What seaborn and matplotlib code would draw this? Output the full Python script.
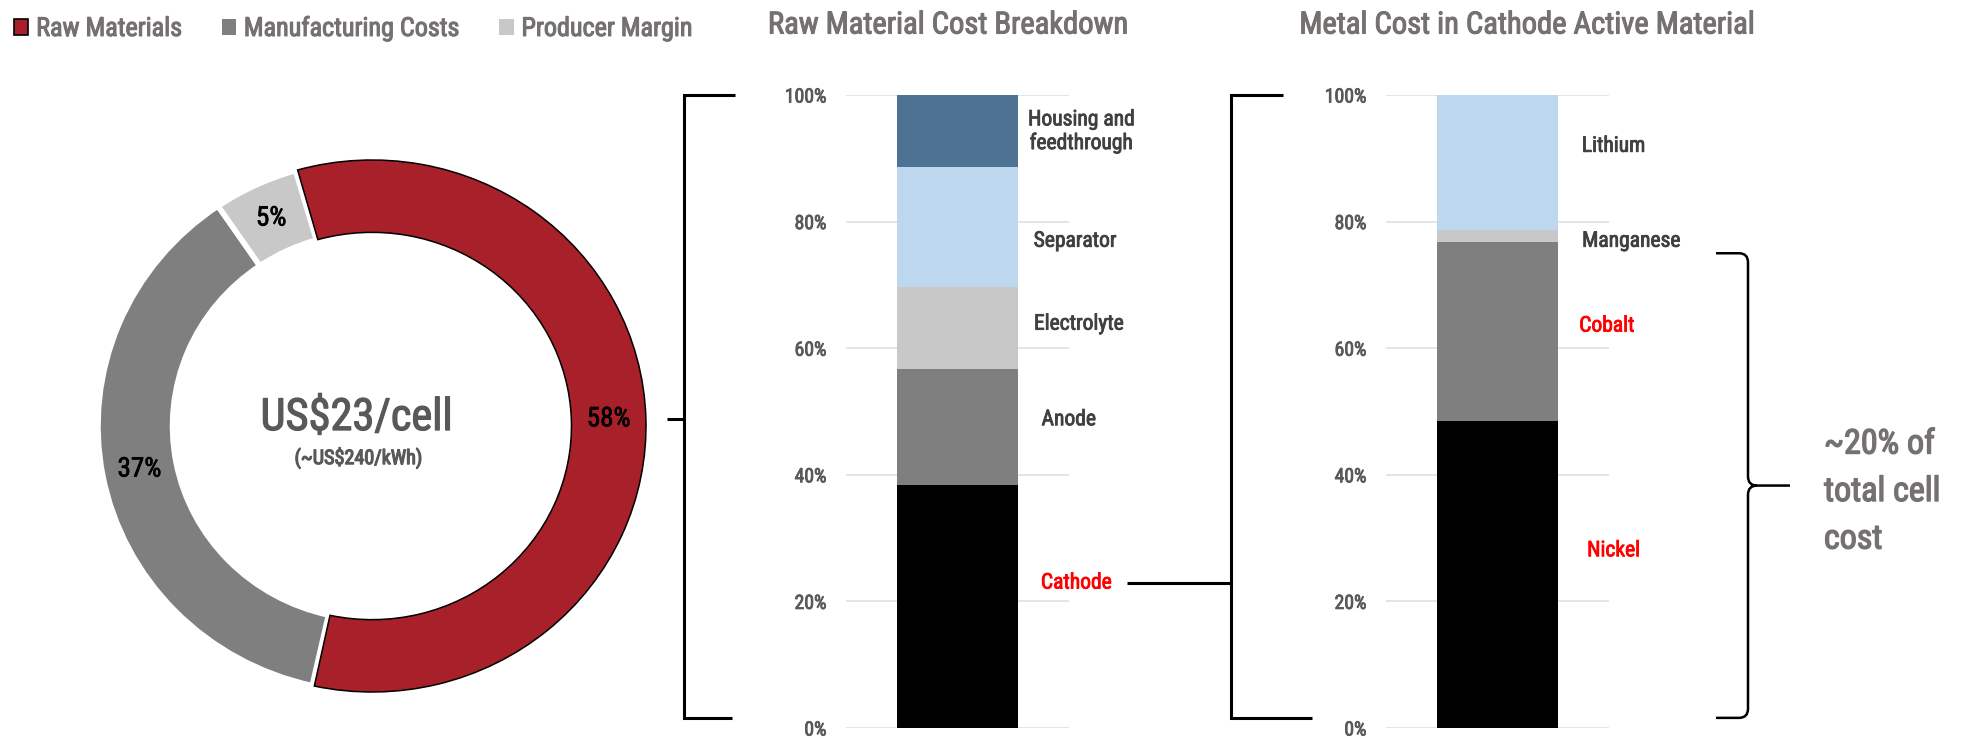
import numpy as np
import pandas as pd
import matplotlib
matplotlib.use("Agg")
import matplotlib.pyplot as plt
import matplotlib.patheffects as pe
import seaborn as sns
from matplotlib import font_manager
from matplotlib.lines import Line2D
from matplotlib.patches import Patch, PathPatch
from matplotlib.path import Path
from matplotlib.transforms import blended_transform_factory

# ---- data ----
cost_parts = ["Raw Materials", "Manufacturing Costs", "Producer Margin"]
cost_share = [58, 37, 5]

# raw material cost split, bottom to top (% of raw material cost)
material_parts = ["Cathode", "Anode", "Electrolyte", "Separator", "Housing and\nfeedthrough"]
material_share = [38.4, 18.3, 13.0, 19.0, 11.3]

# metal cost split in the cathode active material, bottom to top
metal_parts = ["Nickel", "Cobalt", "Manganese", "Lithium"]
metal_share = [48.5, 28.2, 1.9, 21.4]

pct_ticks = [0, 20, 40, 60, 80, 100]
pct_tick_labels = ["0%", "20%", "40%", "60%", "80%", "100%"]

cell_cost_text = "US$23/cell"
kwh_cost_text = "(~US$240/kWh)"
metal_note = "~20% of\ntotal cell\ncost"
material_title = "Raw Material Cost Breakdown"
metal_title = "Metal Cost in Cathode Active Material"

# ---- label placement (percent axis units / bar axis x units) ----
material_label_x = [0.533, 0.499, 0.544, 0.527, 0.555]
material_label_y = [22.9, 48.7, 63.8, 76.9, 94.2]
metal_label_x = [0.52, 0.49, 0.60, 0.52]
metal_label_y = [28.0, 63.5, 76.9, 91.9]

# ---- colours ----
RED = "#A8202A"
MID_GRAY = "#7F7F7F"
LIGHT_GRAY = "#C8C8C8"
PALE_BLUE = "#BDD7EE"
STEEL = "#4E7291"
TITLE_GRAY = "#767171"
TICK_GRAY = "#595959"
LABEL_GRAY = "#404040"
ALERT = "#FF0000"

cost_colors = [RED, MID_GRAY, LIGHT_GRAY]
material_colors = ["#000000", MID_GRAY, LIGHT_GRAY, PALE_BLUE, STEEL]
metal_colors = ["#000000", MID_GRAY, LIGHT_GRAY, PALE_BLUE]
material_text_colors = [ALERT, LABEL_GRAY, LABEL_GRAY, LABEL_GRAY, LABEL_GRAY]
metal_text_colors = [ALERT, ALERT, LABEL_GRAY, LABEL_GRAY]

sns.set_theme(style="white")

# ---- fonts ----
names = {f.name for f in font_manager.fontManager.ttflist}
NARROW_STRETCH = "normal"
if "Liberation Sans Narrow" in names:
    NARROW = "Liberation Sans Narrow"
elif "Roboto Condensed" in names:
    NARROW = "Roboto Condensed"
else:
    NARROW = "DejaVu Sans"
    NARROW_STRETCH = "condensed"
plt.rcParams["font.family"] = [NARROW, "DejaVu Sans"]


def narrow(size, color, weight=0.7, **extra):
    """Text style for the condensed face, thickened slightly with a stroke."""
    kw = dict(family=NARROW, fontstretch=NARROW_STRETCH, fontsize=size, color=color,
              path_effects=[pe.withStroke(linewidth=weight, foreground=color)])
    kw.update(extra)
    return kw


W, H = 1986, 738
fig = plt.figure(figsize=(W / 100, H / 100), dpi=100)


def fx(px):
    return px / W


def fy(py):
    return 1 - py / H


# ---- axes ----
pie_cx, pie_cy, pie_rx, pie_ry = 372, 426, 274, 266
ax_pie = fig.add_axes([fx(pie_cx - pie_rx), fy(pie_cy + pie_ry), fx(2 * pie_rx), 2 * pie_ry / H])
ax_mat = fig.add_axes([fx(846), fy(728), fx(223), 633 / H])
ax_met = fig.add_axes([fx(1386), fy(728), fx(223), 633 / H])

# ---- donut ----
wedges, _, pct_texts = ax_pie.pie(
    cost_share,
    colors=cost_colors,
    startangle=106.2,
    counterclock=False,
    autopct=lambda p: f"{p:.0f}%",
    pctdistance=0.864,
    wedgeprops=dict(width=0.272, edgecolor="white", linewidth=4),
    textprops=narrow(19.5, "black", weight=0.5),
)
ax_pie.set_xlim(-1, 1)
ax_pie.set_ylim(-1, 1)
ax_pie.set_aspect("auto")
for w in wedges:
    w.set_clip_on(False)
raw = wedges[0]
raw.set_theta1(raw.theta1 + 0.45)
raw.set_theta2(raw.theta2 - 0.45)
raw.set_edgecolor("black")
raw.set_linewidth(1.1)
raw.set_zorder(3)
for t in pct_texts:
    t.set_zorder(4)

ax_pie.text(-0.055, 0.03, cell_cost_text, ha="center", va="center", **narrow(32, TICK_GRAY, 0.9))
ax_pie.text(-0.05, -0.12, kwh_cost_text, ha="center", va="center", **narrow(14.5, TICK_GRAY, 0.9))


# ---- stacked bars ----
def stacked_bar(ax, parts, shares, colors):
    tops = np.cumsum(shares)
    frame = pd.DataFrame({"group": ["total"] * len(parts), "part": parts, "top": tops})
    # tallest first so each lower segment is painted over it
    for i in range(len(parts) - 1, -1, -1):
        sns.barplot(data=frame.iloc[[i]], x="group", y="top", color=colors[i],
                    saturation=1, width=0.543, errorbar=None, edgecolor="none",
                    linewidth=0, ax=ax)
    ax.set_xlim(-0.5, 0.5)
    ax.set_ylim(0, 100)
    ax.set_yticks(pct_ticks, pct_tick_labels)
    ax.set_xticks([])
    ax.set_xlabel("")
    ax.set_ylabel("")
    ax.yaxis.grid(True, color="#E3E3E3", linewidth=1.3)
    ax.set_axisbelow(True)
    sns.despine(ax=ax, left=True, bottom=True)
    ax.tick_params(axis="y", length=0, pad=14)
    for lab in ax.get_yticklabels():
        lab.update(narrow(14.2, TICK_GRAY, 0.6))


stacked_bar(ax_mat, material_parts, material_share, material_colors)
stacked_bar(ax_met, metal_parts, metal_share, metal_colors)

for name, x, y, c in zip(material_parts, material_label_x, material_label_y, material_text_colors):
    ax_mat.text(x, y, name, ha="center", va="center", linespacing=1.1, clip_on=False,
                **narrow(15.5, c, 0.6))
for name, x, y, c in zip(metal_parts, metal_label_x, metal_label_y, metal_text_colors):
    ax_met.text(x, y, name, ha="center", va="center", clip_on=False, **narrow(15.5, c, 0.6))

# ---- titles and legend ----
fig.text(fx(948), fy(25), material_title, ha="center", va="center", **narrow(22, TITLE_GRAY, 0.8))
fig.text(fx(1527), fy(25), metal_title, ha="center", va="center", **narrow(22, TITLE_GRAY, 0.8))

handles = [Patch(facecolor=RED, edgecolor="black", linewidth=1.2),
           Patch(facecolor=MID_GRAY, edgecolor="none"),
           Patch(facecolor=LIGHT_GRAY, edgecolor="none")]
leg = fig.legend(handles, cost_parts, loc="upper left", bbox_to_anchor=(fx(14), fy(16)),
                 ncol=3, frameon=False, borderpad=0, borderaxespad=0,
                 handlelength=0.55, handleheight=0.55, handletextpad=0.3, columnspacing=1.52,
                 prop=dict(family=NARROW, stretch=NARROW_STRETCH, size=18.8), labelcolor=TITLE_GRAY)
for t in leg.get_texts():
    t.set_path_effects([pe.withStroke(linewidth=0.8, foreground=TITLE_GRAY)])

# ---- brackets ----
tr = blended_transform_factory(fig.transFigure, ax_mat.transData)
raw_label_y = ax_mat.transData.inverted().transform(
    ax_pie.transData.transform(pct_texts[0].get_position()))[1]
line_kw = dict(color="black", linewidth=2.2, solid_capstyle="butt", solid_joinstyle="miter",
               transform=tr, clip_on=False)
bottom_level = 1.6

# donut -> raw material breakdown
fig.add_artist(Line2D([fx(735), fx(684), fx(684), fx(732)],
                      [100, 100, bottom_level, bottom_level], **line_kw))
fig.add_artist(Line2D([fx(667), fx(684)], [raw_label_y, raw_label_y], **line_kw))

# cathode -> metal breakdown
cathode_y = material_label_y[0]
fig.add_artist(Line2D([fx(1283), fx(1231), fx(1231), fx(1312)],
                      [100, 100, bottom_level, bottom_level], **line_kw))
fig.add_artist(Line2D([fx(1127), fx(1231)], [cathode_y, cathode_y], **line_kw))

# curly brace over nickel + cobalt + manganese
brace_top = 75.0
brace_bot = bottom_level
brace_mid = (brace_top + brace_bot) / 2
x_tip, x_sp, x_pt = fx(1716), fx(1748), fx(1790)
rx, ry = fx(9), 1.45
verts = [
    (x_tip, brace_top), (x_sp - rx, brace_top), (x_sp, brace_top), (x_sp, brace_top - ry),
    (x_sp, brace_mid + ry), (x_sp, brace_mid), (x_sp + rx, brace_mid), (x_pt, brace_mid),
    (x_sp + rx, brace_mid), (x_sp, brace_mid), (x_sp, brace_mid - ry),
    (x_sp, brace_bot + ry), (x_sp, brace_bot), (x_sp - rx, brace_bot), (x_tip, brace_bot),
]
codes = [
    Path.MOVETO, Path.LINETO, Path.CURVE3, Path.CURVE3,
    Path.LINETO, Path.CURVE3, Path.CURVE3, Path.LINETO,
    Path.MOVETO, Path.CURVE3, Path.CURVE3,
    Path.LINETO, Path.CURVE3, Path.CURVE3, Path.LINETO,
]
fig.add_artist(PathPatch(Path(verts, codes), facecolor="none", edgecolor="black",
                         linewidth=1.8, transform=tr, clip_on=False))
fig.text(fx(1824), fy(492), metal_note, ha="left", va="center", linespacing=1.62,
         **narrow(24.5, TITLE_GRAY, 1.0))

fig.savefig("out.png", dpi=100)
